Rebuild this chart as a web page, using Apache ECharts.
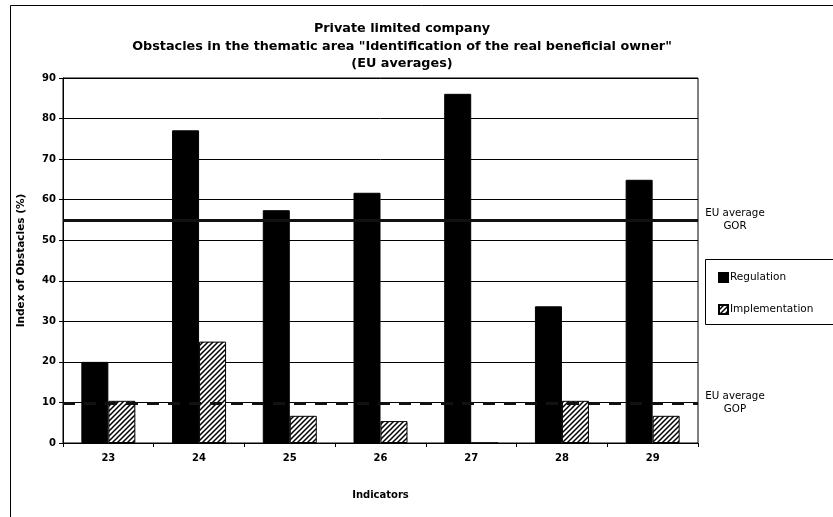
<!DOCTYPE html>
<html>
<head>
<meta charset="utf-8">
<script src="https://cdn.jsdelivr.net/npm/echarts@6/dist/echarts.min.js"></script>
<style>
  html, body { margin: 0; padding: 0; background: #fff; }
  #chart { width: 833px; height: 517px; }
</style>
</head>
<body>
<div id="chart"></div>
<script>
// Indicators of the thematic area and the obstacle indices per indicator
const indicators = ['23', '24', '25', '26', '27', '28', '29'];
const regulation = [20, 77.1, 57.4, 61.7, 86.1, 33.7, 64.9];
const implementation = [10.4, 25.0, 6.7, 5.4, 0, 10.4, 6.7];
// EU averages: GOR (regulation) and GOP (implementation)
const euAverageGOR = 55;
const euAverageGOP = 9.8;
const titleLines = [
  'Private limited company',
  'Obstacles in the thematic area "Identification of the real beneficial owner"',
  '(EU averages)'
];

const FONT = 'DejaVu Sans';

// diagonal hatch fill for the implementation bars
function hatchPattern() {
  const c = document.createElement('canvas');
  c.width = 5; c.height = 5;
  const ctx = c.getContext('2d');
  ctx.fillStyle = '#fff';
  ctx.fillRect(0, 0, 5, 5);
  ctx.strokeStyle = '#000';
  ctx.lineWidth = 1.5;
  ctx.beginPath();
  ctx.moveTo(-1, 6); ctx.lineTo(6, -1);
  ctx.moveTo(-1, 1); ctx.lineTo(1, -1);
  ctx.moveTo(4, 6); ctx.lineTo(6, 4);
  ctx.stroke();
  return c;
}

const chart = echarts.init(document.getElementById('chart'), null, { renderer: 'canvas' });

chart.setOption({
  backgroundColor: '#fff',
  animation: false,
  textStyle: { fontFamily: FONT, color: '#000' },
  title: {
    text: titleLines.join('\n'),
    left: 397,
    textAlign: 'center',
    top: 15,
    textStyle: { fontFamily: FONT, fontSize: 12.8, fontWeight: 'bold', lineHeight: 17.5, color: '#000' }
  },
  graphic: [
    // outer chart frame (top and left edges)
    { type: 'polyline', shape: { points: [[833, 5.5], [10.5, 5.5], [10.5, 517]] },
      style: { stroke: '#000', lineWidth: 1, fill: null }, silent: true },
    // legend frame
    { type: 'rect', shape: { x: 705.5, y: 259.5, width: 140, height: 65 },
      style: { stroke: '#000', lineWidth: 1, fill: '#fff' }, z: 0, silent: true }
  ],
  legend: {
    data: ['Regulation', 'Implementation'],
    orient: 'vertical',
    left: 718,
    top: 272,
    padding: 0,
    itemWidth: 9,
    itemHeight: 9,
    itemGap: 21,
    icon: 'rect',
    z: 5,
    textStyle: { fontFamily: FONT, fontSize: 10.5, color: '#000', padding: [0, 0, 0, -3] }
  },
  grid: {
    left: 63, right: 135, top: 78, bottom: 74,
    show: true, borderColor: '#000', borderWidth: 1, backgroundColor: '#fff'
  },
  xAxis: {
    type: 'category',
    data: indicators,
    name: 'Indicators',
    nameLocation: 'middle',
    nameGap: 47,
    nameTextStyle: { fontFamily: FONT, fontSize: 10, fontWeight: 'bold', color: '#000' },
    axisLine: { show: true, lineStyle: { color: '#000', width: 1 } },
    axisTick: { show: true, length: 4, lineStyle: { color: '#000' } },
    axisLabel: { fontFamily: FONT, fontSize: 10, fontWeight: 'bold', color: '#000', margin: 10 },
    splitLine: { show: false }
  },
  yAxis: {
    type: 'value',
    min: 0, max: 90, interval: 10,
    name: 'Index of Obstacles (%)',
    nameLocation: 'middle',
    nameGap: 36,
    nameTextStyle: { fontFamily: FONT, fontSize: 10.5, fontWeight: 'bold', color: '#000' },
    axisLine: { show: true, lineStyle: { color: '#000', width: 1 } },
    axisTick: { show: true, inside: false, length: 4, lineStyle: { color: '#000' } },
    axisLabel: { fontFamily: FONT, fontSize: 10, fontWeight: 'bold', color: '#000', margin: 7 },
    splitLine: { show: true, lineStyle: { color: '#000', width: 1 } }
  },
  series: [
    {
      // EU average reference lines, drawn beneath the bars
      name: 'EU average',
      type: 'line',
      data: [],
      z: 1,
      silent: true,
      markLine: {
        silent: true,
        symbol: 'none',
        animation: false,
        data: [
          { yAxis: euAverageGOR, name: 'GOR',
            lineStyle: { color: '#111', width: 3, type: 'solid' } },
          { yAxis: euAverageGOP, name: 'GOP',
            lineStyle: { color: '#111', width: 3, type: [12, 9] } }
        ],
        label: {
          show: true,
          position: 'end',
          distance: 6,
          formatter: p => '{a|EU average}\n{a|' + p.name + '}',
          rich: { a: { fontFamily: FONT, fontSize: 10.3, color: '#000', width: 62, align: 'center', lineHeight: 13 } }
        }
      }
    },
    {
      name: 'Regulation',
      type: 'bar',
      data: regulation,
      barWidth: 27,
      barGap: '0%',
      z: 3,
      itemStyle: { color: '#000', borderColor: '#000', borderWidth: 1 }
    },
    {
      name: 'Implementation',
      type: 'bar',
      data: implementation,
      barWidth: 27,
      z: 3,
      itemStyle: { color: { image: hatchPattern(), repeat: 'repeat' }, borderColor: '#000', borderWidth: 1 }
    }
  ]
});
</script>
</body>
</html>
